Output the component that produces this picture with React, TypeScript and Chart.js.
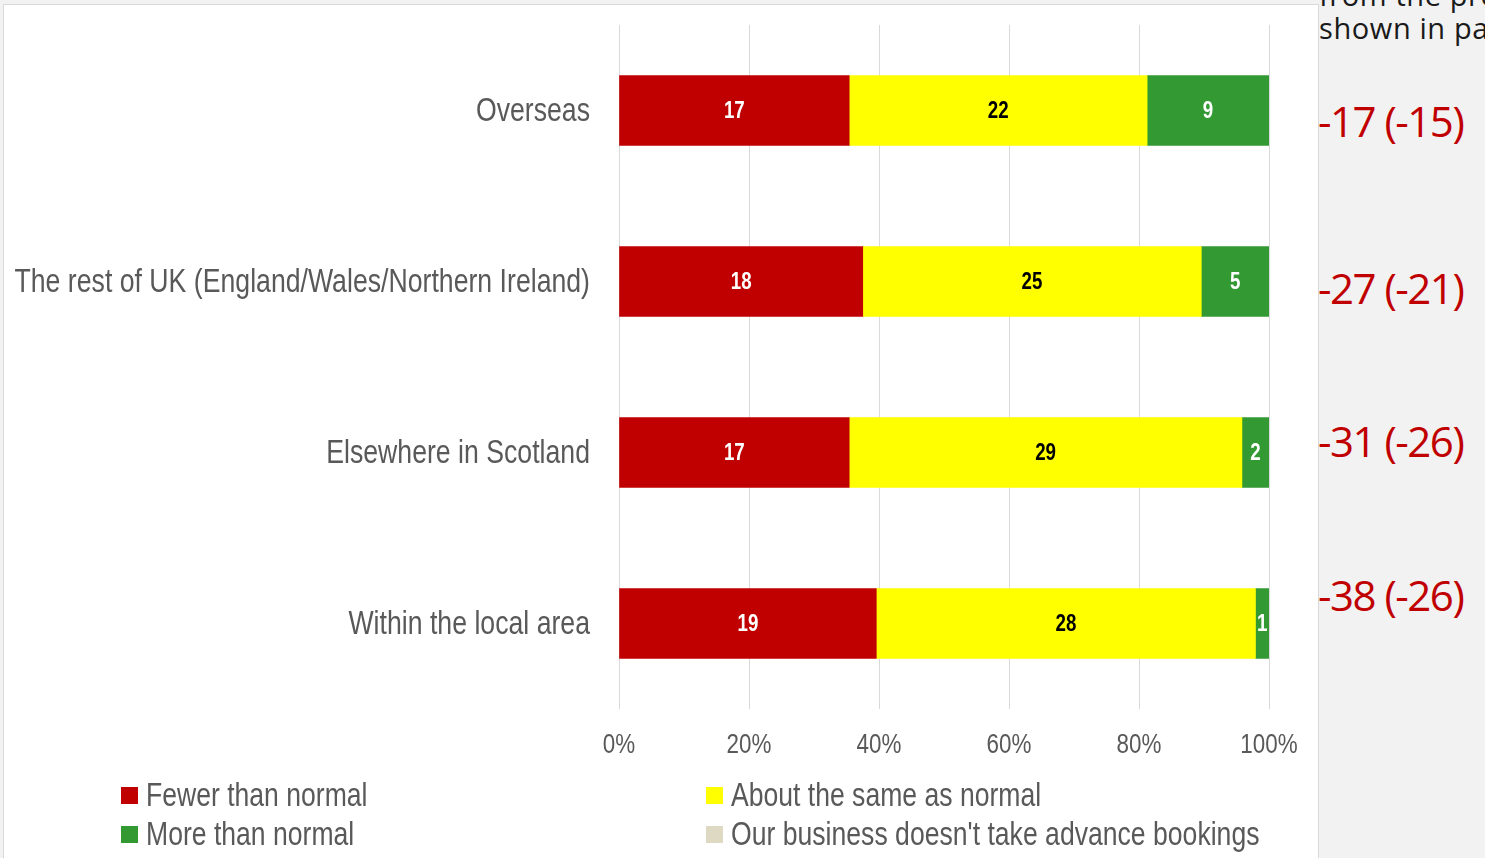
import React, { useEffect, useRef } from "react";
import { Chart, registerables } from "chart.js";

Chart.register(...registerables);

const categories = [
  "Overseas",
  "The rest of UK (England/Wales/Northern Ireland)",
  "Elsewhere in Scotland",
  "Within the local area",
];
const fewerThanNormal = [17, 18, 17, 19];
const aboutTheSame = [22, 25, 29, 28];
const moreThanNormal = [9, 5, 2, 1];
const noAdvanceBookings = [0, 0, 0, 0];
const xTickLabels = ["0%", "20%", "40%", "60%", "80%", "100%"];
const netScores = ["-17 (-15)", "-27 (-21)", "-31 (-26)", "-38 (-26)"];
const sideNoteLines = ["from the previous survey are", "shown in parentheses"];

const seriesNames = [
  "Fewer than normal",
  "About the same as normal",
  "More than normal",
  "Our business doesn't take advance bookings",
];
const seriesColors = ["#c00000", "#ffff00", "#339933", "#ddd9c3"];
const labelColors = ["#ffffff", "#000000", "#ffffff", "#000000"];

const FONT = "'Liberation Sans', Arial, sans-serif";
const SQUEEZE = 0.8;

function drawSqueezed(ctx: CanvasRenderingContext2D, text: string, x: number, y: number, factor: number) {
  ctx.save();
  ctx.translate(x, y);
  ctx.scale(factor, 1);
  ctx.fillText(text, 0, 0);
  ctx.restore();
}

export default function App() {
  const canvasRef = useRef<HTMLCanvasElement | null>(null);

  useEffect(() => {
    const series = [fewerThanNormal, aboutTheSame, moreThanNormal, noAdvanceBookings];
    const totals = categories.map((_, i) => series.reduce((s, arr) => s + arr[i], 0));

    const labelsPlugin = {
      id: "labelsPlugin",
      afterDraw(chart: any) {
        const ctx: CanvasRenderingContext2D = chart.ctx;
        const xs = chart.scales.x;
        const ys = chart.scales.y;
        const area = chart.chartArea;
        ctx.save();
        // category labels
        ctx.fillStyle = "#595959";
        ctx.font = `33px ${FONT}`;
        ctx.textAlign = "right";
        ctx.textBaseline = "middle";
        categories.forEach((c, i) => {
          drawSqueezed(ctx, c, area.left - 29, ys.getPixelForValue(i) + 1, 0.808);
        });
        // x tick labels
        ctx.font = `28px ${FONT}`;
        ctx.textAlign = "center";
        xs.ticks.forEach((t: any, i: number) => {
          drawSqueezed(ctx, xTickLabels[i], xs.getPixelForValue(t.value), area.bottom + 36, SQUEEZE);
        });
        // value labels
        ctx.font = `bold 24px ${FONT}`;
        chart.data.datasets.forEach((_ds: any, di: number) => {
          const meta = chart.getDatasetMeta(di);
          meta.data.forEach((el: any, i: number) => {
            const raw = series[di][i];
            if (!raw) return;
            ctx.fillStyle = labelColors[di];
            drawSqueezed(ctx, String(raw), (el.x + el.base) / 2, el.y + 1, 0.78);
          });
        });
        ctx.restore();
      },
    };

    const chart = new Chart(canvasRef.current as HTMLCanvasElement, {
      type: "bar",
      data: {
        labels: categories,
        datasets: series.map((arr, di) => ({
          label: seriesNames[di],
          data: arr.map((v, i) => (v / totals[i]) * 100),
          backgroundColor: seriesColors[di],
          borderWidth: 0,
          barThickness: 70,
        })),
      },
      options: {
        indexAxis: "y",
        animation: false,
        responsive: false,
        maintainAspectRatio: false,
        layout: { padding: { top: 25, right: 49, left: 0, bottom: 0 } },
        plugins: {
          legend: { display: false },
          tooltip: { enabled: false },
        },
        scales: {
          x: {
            stacked: true,
            min: 0,
            max: 100,
            grid: { color: "#d9d9d9", lineWidth: 1, drawTicks: false },
            border: { display: false },
            ticks: { stepSize: 20, display: false },
            afterFit: (scale: any) => {
              scale.height = 149;
            },
          },
          y: {
            stacked: true,
            grid: { display: false, drawTicks: false },
            border: { display: false },
            ticks: { display: false },
            afterFit: (scale: any) => {
              scale.width = 619;
            },
          },
        },
      },
      plugins: [labelsPlugin],
    } as any);

    return () => chart.destroy();
  }, []);

  const legendPos = [
    { left: 121, top: 795 },
    { left: 706, top: 795 },
    { left: 121, top: 834 },
    { left: 706, top: 834 },
  ];
  const netTops = [123, 290, 443, 597];

  return (
    <div
      style={{
        position: "fixed",
        left: 0,
        top: 0,
        width: 1485,
        height: 858,
        overflow: "hidden",
        background: "#f2f2f2",
      }}
    >
      <div
        style={{
          position: "absolute",
          left: 3,
          top: 4,
          width: 1314,
          height: 870,
          background: "#ffffff",
          border: "1px solid #d9d9d9",
        }}
      />
      <canvas
        ref={canvasRef}
        width={1318}
        height={858}
        style={{ position: "absolute", left: 0, top: 0, width: 1318, height: 858 }}
      />
      {seriesNames.map((name, si) => (
        <div
          key={name}
          style={{
            position: "absolute",
            left: legendPos[si].left,
            top: legendPos[si].top - 20,
            height: 40,
            display: "flex",
            alignItems: "center",
            whiteSpace: "nowrap",
            fontFamily: FONT,
            fontSize: 33,
            color: "#595959",
          }}
        >
          <span
            style={{
              display: "inline-block",
              width: 17,
              height: 17,
              background: seriesColors[si],
              marginRight: 8,
              flex: "none",
            }}
          />
          <span
            style={{
              display: "inline-block",
              transform: `scaleX(${si === 3 ? 0.806 : 0.805})`,
              transformOrigin: "left center",
            }}
          >
            {name}
          </span>
        </div>
      ))}
      <div
        style={{
          position: "absolute",
          left: 1319,
          top: -22,
          width: 170,
          whiteSpace: "nowrap",
          fontFamily: "'Open Sans', 'Noto Sans', sans-serif",
          fontSize: 29,
          lineHeight: "33px",
          letterSpacing: 0.6,
          color: "#1a1a1a",
        }}
      >
        {sideNoteLines.map((t) => (
          <div key={t}>{t}</div>
        ))}
      </div>
      {netScores.map((t, i) => (
        <div
          key={t + i}
          style={{
            position: "absolute",
            left: 1318,
            top: netTops[i] - 31,
            height: 58,
            lineHeight: "58px",
            whiteSpace: "nowrap",
            fontFamily: "'Open Sans', 'Noto Sans', sans-serif",
            fontSize: 42,
            color: "#c00000",
            letterSpacing: -1.5,
          }}
        >
          {t}
        </div>
      ))}
    </div>
  );
}
